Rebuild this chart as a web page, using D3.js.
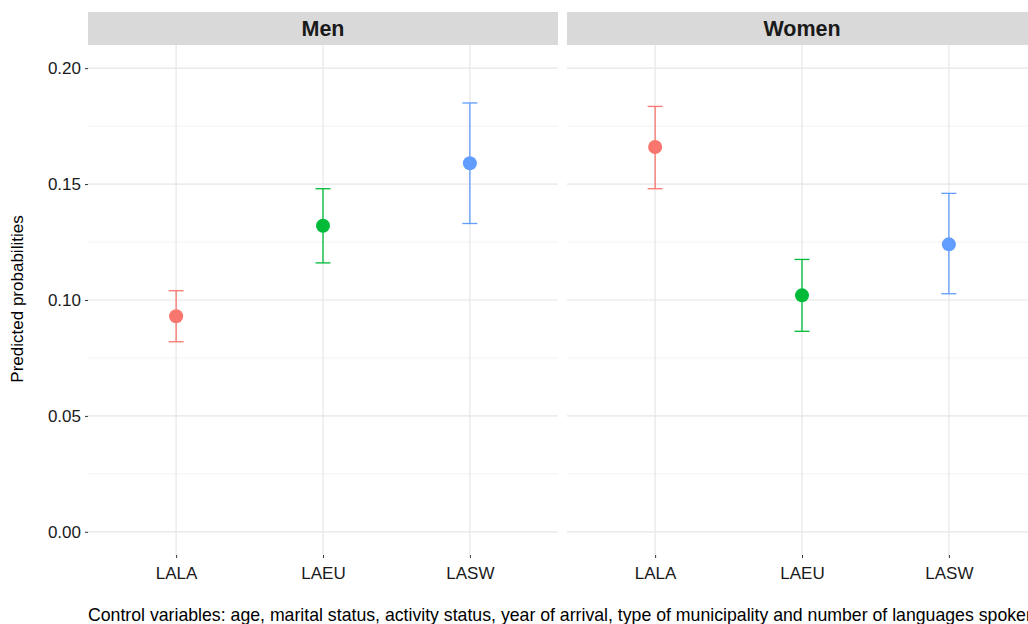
<!DOCTYPE html>
<html><head><meta charset="utf-8">
<script src="https://cdn.jsdelivr.net/npm/d3@7"></script>
<style>body{margin:0;background:#fff;}svg{display:block;font-family:Arial,"Liberation Sans",sans-serif;}</style>
</head><body>
<svg id="c" width="1028" height="624"></svg>
<script>
const panels = ["Men", "Women"];
const categories = ["LALA", "LAEU", "LASW"];
const colors = ["#F8766D", "#00BA38", "#619CFF"];
const menEstimate = [0.093, 0.132, 0.159];
const menLower = [0.082, 0.116, 0.133];
const menUpper = [0.104, 0.148, 0.185];
const womenEstimate = [0.166, 0.102, 0.124];
const womenLower = [0.148, 0.0865, 0.1027];
const womenUpper = [0.1835, 0.1175, 0.146];
const yTicks = [0, 0.05, 0.10, 0.15, 0.20];
const yMinor = [0.025, 0.075, 0.125, 0.175];
const yTitle = "Predicted probabilities";
const caption = "Control variables: age, marital status, activity status, year of arrival, type of municipality and number of languages spoken";

const data = {
  Men: categories.map((c,i)=>({cat:c, est:menEstimate[i], lo:menLower[i], hi:menUpper[i], col:colors[i]})),
  Women: categories.map((c,i)=>({cat:c, est:womenEstimate[i], lo:womenLower[i], hi:womenUpper[i], col:colors[i]}))
};

const FONT = "Arial, 'Liberation Sans', sans-serif";
const svg = d3.select("#c");
const panelTop = 45, panelBottom = 555, stripTop = 12;
const panelX = {Men:[88, 558], Women:[567, 1037]};
const y = d3.scaleLinear().domain([-0.01, 0.21]).range([panelBottom, panelTop]);

// y axis
const yAxis = svg.append("g").attr("transform", `translate(${panelX.Men[0]},0)`)
  .call(d3.axisLeft(y).tickValues(yTicks).tickFormat(d3.format(".2f")).tickSize(3).tickPadding(4));
yAxis.select(".domain").remove();
yAxis.selectAll("line").attr("stroke","#333");
yAxis.selectAll("text").attr("fill","#1a1a1a").style("font-size","17px").style("font-family",FONT);

svg.append("text").attr("transform","translate(23,299) rotate(-90)")
  .attr("text-anchor","middle").attr("fill","#000").style("font-size","17px").text(yTitle);

panels.forEach(p=>{
  const [x0,x1] = panelX[p];
  const x = d3.scalePoint().domain(categories).range([x0,x1]).padding(0.6);
  const g = svg.append("g");
  g.selectAll(".mn").data(yMinor).join("line")
    .attr("x1",x0).attr("x2",x1).attr("y1",d=>y(d)).attr("y2",d=>y(d))
    .attr("stroke","#f2f2f2").attr("stroke-width",1);
  g.selectAll(".mj").data(yTicks).join("line")
    .attr("x1",x0).attr("x2",x1).attr("y1",d=>y(d)).attr("y2",d=>y(d))
    .attr("stroke","#e6e6e6").attr("stroke-width",1.2);
  g.selectAll(".vx").data(categories).join("line")
    .attr("x1",d=>x(d)).attr("x2",d=>x(d)).attr("y1",panelTop).attr("y2",panelBottom)
    .attr("stroke","#e6e6e6").attr("stroke-width",1.2);
  // strip
  svg.append("rect").attr("x",x0).attr("y",stripTop).attr("width",x1-x0).attr("height",panelTop-stripTop).attr("fill","#d9d9d9");
  svg.append("text").attr("x",(x0+x1)/2).attr("y",36).attr("text-anchor","middle")
    .attr("font-weight","bold").attr("fill","#1a1a1a").style("font-size","21.5px").text(p);
  // x axis
  const xa = svg.append("g").attr("transform",`translate(0,${panelBottom})`)
    .call(d3.axisBottom(x).tickSize(3).tickPadding(9));
  xa.select(".domain").remove();
  xa.selectAll("line").attr("stroke","#333");
  xa.selectAll("text").attr("fill","#1a1a1a").style("font-size","17px").style("font-family",FONT);
  // error bars
  const d = data[p];
  const eb = svg.append("g");
  eb.selectAll(".v").data(d).join("line")
    .attr("x1",e=>x(e.cat)).attr("x2",e=>x(e.cat)).attr("y1",e=>y(e.lo)).attr("y2",e=>y(e.hi))
    .attr("stroke",e=>e.col).attr("stroke-width",1.3);
  ["lo","hi"].forEach(k=>{
    eb.selectAll(".c"+k).data(d).join("line")
      .attr("x1",e=>x(e.cat)-7.5).attr("x2",e=>x(e.cat)+7.5).attr("y1",e=>y(e[k])).attr("y2",e=>y(e[k]))
      .attr("stroke",e=>e.col).attr("stroke-width",1.3);
  });
  eb.selectAll("circle").data(d).join("circle")
    .attr("cx",e=>x(e.cat)).attr("cy",e=>y(e.est)).attr("r",7).attr("fill",e=>e.col);
});

svg.append("text").attr("x",88).attr("y",621).attr("fill","#000").style("font-size","17.7px").text(caption);
</script>
</body></html>
